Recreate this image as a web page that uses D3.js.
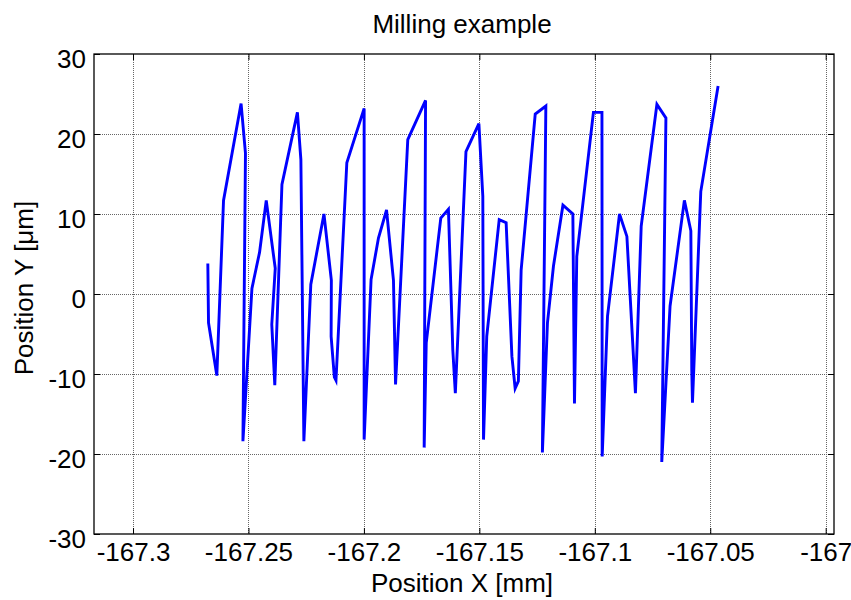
<!DOCTYPE html>
<html>
<head>
<meta charset="utf-8">
<script src="https://cdn.jsdelivr.net/npm/d3@7"></script>
<style>
    body { margin: 0; background: #fff; }
    svg text { font-family: Arial, "Liberation Sans", Helvetica, sans-serif; fill: #000; }
</style>
</head>
<body>
<svg id="chart" width="851" height="600"></svg>
<script>
// Траектория фрезы: X [mm], Y [µm]
const posX = [
    -167.2676, -167.2673, -167.2637, -167.2608, -167.2532, -167.2513, -167.2524, -167.2516,
    -167.2485, -167.2452, -167.2423, -167.2384, -167.2399, -167.2386, -167.2355, -167.2288,
    -167.2273, -167.2260, -167.2230, -167.2173, -167.2141, -167.2142, -167.2128, -167.2121,
    -167.2074, -167.1999, -167.1999, -167.1969, -167.1937, -167.1902, -167.1872, -167.1863,
    -167.1810, -167.1733, -167.1739, -167.1730, -167.1667, -167.1634, -167.1615, -167.1604,
    -167.1558, -167.1502, -167.1485, -167.1482, -167.1468, -167.1414, -167.1384, -167.1359,
    -167.1345, -167.1331, -167.1319, -167.1258, -167.1212, -167.1227, -167.1205, -167.1179,
    -167.1138, -167.1095, -167.1088, -167.1078, -167.1006, -167.0969, -167.0968, -167.0945,
    -167.0893, -167.0861, -167.0824, -167.0799, -167.0731, -167.0692, -167.0710, -167.0674,
    -167.0612, -167.0584, -167.0580, -167.0577, -167.0541, -167.0466
];
const posY = [
    3.8, -3.6, -10.2, 11.7, 23.8, 17.6, -18.4, -14.5,
    0.7, 5.2, 11.7, 3.2, -3.8, -11.4, 13.7, 22.7,
    16.8, -18.4, 1.2, 10.0, 1.7, -5.3, -10.4, -10.8,
    16.4, 23.2, -18.2, 1.8, 7.0, 10.5, 1.7, -11.3,
    19.3, 24.2, -19.2, -6.1, 9.5, 10.6, -7.0, -12.4,
    17.8, 21.3, 12.2, -18.2, -5.3, 9.3, 8.9, -7.8,
    -11.8, -10.9, 3.0, 22.5, 23.5, -19.8, -3.6, 3.5,
    11.1, 10.0, -13.7, 4.7, 22.7, 22.7, -20.3, -2.8,
    10.0, 7.2, -12.4, 8.5, 23.7, 22.0, -21.0, -1.5,
    11.7, 7.9, -9.5, -13.6, 12.8, 26.0
];

const xTicks = [-167.3, -167.25, -167.2, -167.15, -167.1, -167.05, -167];
const xTickLabels = ['-167.3', '-167.25', '-167.2', '-167.15', '-167.1', '-167.05', '-167'];
const yTicks = [-30, -20, -10, 0, 10, 20, 30];
const yTickLabels = ['-30', '-20', '-10', '0', '10', '20', '30'];
const xDomain = [-167.3169, -166.9964];
const yDomain = [-30, 30];

const titleText = 'Milling example';
const xLabelText = 'Position X [mm]';
const yLabelText = 'Position Y [μm]';

const margin = {top: 54, right: 17, bottom: 66, left: 94};
const width = 851, height = 600;

function buildScales() {
    // Шкалы осей
    const x = d3.scaleLinear().domain(xDomain).range([margin.left, width - margin.right]);
    const y = d3.scaleLinear().domain(yDomain).range([height - margin.bottom, margin.top]);
    return {x, y};
}

function drawGrid(svg, x, y) {
    // Пунктирная сетка
    const g = svg.append('g')
        .attr('stroke', '#666')
        .attr('stroke-width', 1)
        .attr('stroke-dasharray', '1,1');

    g.selectAll('line.vx')
        .data(xTicks)
        .enter().append('line')
        .attr('x1', d => Math.round(x(d)) + 0.5)
        .attr('x2', d => Math.round(x(d)) + 0.5)
        .attr('y1', y(yDomain[1]))
        .attr('y2', y(yDomain[0]));

    g.selectAll('line.hy')
        .data(yTicks.filter(d => d > yDomain[0] && d < yDomain[1]))
        .enter().append('line')
        .attr('y1', d => Math.round(y(d)) + 0.5)
        .attr('y2', d => Math.round(y(d)) + 0.5)
        .attr('x1', x(xDomain[0]))
        .attr('x2', x(xDomain[1]));
}

function drawAxes(svg, x, y) {
    // Оси с засечками внутрь, подписи снизу и слева
    const fmtX = (d, i) => xTickLabels[i];
    const fmtY = (d, i) => yTickLabels[i];

    const bottom = svg.append('g')
        .attr('transform', `translate(0,${y(yDomain[0])})`)
        .call(d3.axisBottom(x).tickValues(xTicks).tickFormat(fmtX).tickSize(-6).tickPadding(9));
    const left = svg.append('g')
        .attr('transform', `translate(${x(xDomain[0])},0)`)
        .call(d3.axisLeft(y).tickValues(yTicks).tickFormat(fmtY).tickSize(-6).tickPadding(8));
    const top = svg.append('g')
        .attr('transform', `translate(0,${y(yDomain[1])})`)
        .call(d3.axisTop(x).tickValues(xTicks).tickFormat('').tickSize(-6));
    const right = svg.append('g')
        .attr('transform', `translate(${x(xDomain[1])},0)`)
        .call(d3.axisRight(y).tickValues(yTicks).tickFormat('').tickSize(-6));

    [bottom, left, top, right].forEach(a => {
        a.select('.domain').remove();
        a.selectAll('line').attr('stroke', '#000');
        a.selectAll('text')
            .style('font-family', 'Arial, "Liberation Sans", Helvetica, sans-serif')
            .style('font-size', '26px')
            .attr('fill', '#000');
    });
    left.selectAll('text').attr('dy', '0.5em');

    // Рамка
    svg.append('rect')
        .attr('x', x(xDomain[0]))
        .attr('y', y(yDomain[1]))
        .attr('width', x(xDomain[1]) - x(xDomain[0]))
        .attr('height', y(yDomain[0]) - y(yDomain[1]))
        .attr('fill', 'none')
        .attr('stroke', '#000')
        .attr('stroke-width', 1.3);
}

function drawLabels(svg, x, y) {
    // Заголовок и подписи осей
    const cx = (x(xDomain[0]) + x(xDomain[1])) / 2;
    const cy = (y(yDomain[0]) + y(yDomain[1])) / 2;

    svg.append('text')
        .attr('x', cx - 2)
        .attr('y', 33)
        .attr('text-anchor', 'middle')
        .style('font-size', '26px')
        .text(titleText);

    svg.append('text')
        .attr('x', cx - 2)
        .attr('y', 592)
        .attr('text-anchor', 'middle')
        .style('font-size', '26px')
        .text(xLabelText);

    svg.append('text')
        .attr('transform', `translate(33,${cy - 6}) rotate(-90)`)
        .attr('text-anchor', 'middle')
        .style('font-size', '26px')
        .text(yLabelText);
}

function drawPath(svg, x, y) {
    // Линия траектории
    const pts = posX.map((v, i) => [v, posY[i]]);
    const line = d3.line()
        .x(d => x(d[0]))
        .y(d => y(d[1]));

    svg.append('path')
        .datum(pts)
        .attr('d', line)
        .attr('fill', 'none')
        .attr('stroke', '#0000ff')
        .attr('stroke-width', 2.9)
        .attr('stroke-linejoin', 'miter')
        .attr('stroke-miterlimit', 4);
}

function main() {
    const svg = d3.select('#chart');
    svg.append('rect').attr('width', width).attr('height', height).attr('fill', '#fff');
    const {x, y} = buildScales();
    drawGrid(svg, x, y);
    drawPath(svg, x, y);
    drawAxes(svg, x, y);
    drawLabels(svg, x, y);
}

main();
</script>
</body>
</html>
